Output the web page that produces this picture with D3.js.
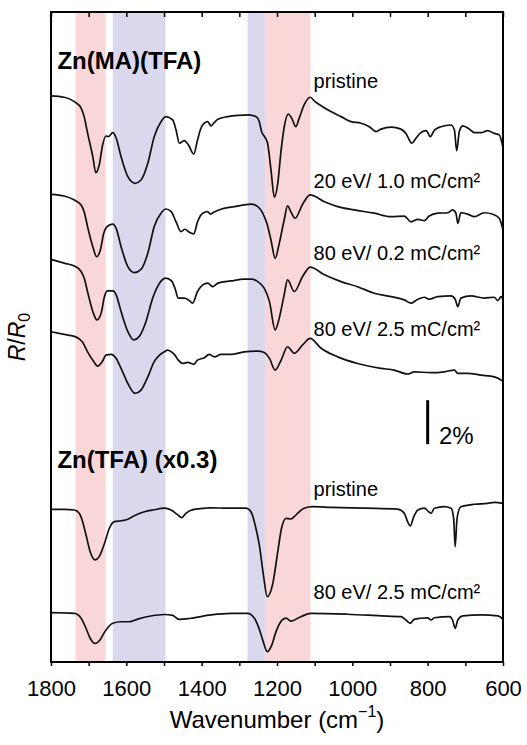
<!DOCTYPE html>
<html>
<head>
<meta charset="utf-8">
<script src="https://cdn.jsdelivr.net/npm/d3@7"></script>
<style>
  body { margin: 0; background: #fff; }
  svg { font-family: "Liberation Sans", Arial, sans-serif; }
</style>
</head>
<body>
<svg id="chart" width="527" height="745"></svg>
<script>
// spectra, [wavenumber (cm-1), change in R/R0 (%)] relative to each trace's offset
let maPristine = [[1800,0],[1765,-0.06],[1738,-0.26],[1720,-0.55],[1712,-0.94],[1703,-1.68],[1689,-2.76],[1681,-3.49],[1672,-3.14],[1663,-2.23],[1654,-1.82],[1648,-1.85],[1636,-1.67],[1627,-1.91],[1614,-2.76],[1596,-3.67],[1577,-3.97],[1561,-3.82],[1543,-3.06],[1526,-1.85],[1508,-1.17],[1495,-0.94],[1477,-1.09],[1468,-1.55],[1459,-2.15],[1446,-2.03],[1435,-2.23],[1421,-2.64],[1411,-2.0],[1402,-1.47],[1393,-1.24],[1384,-1.17],[1375,-1.36],[1368,-1.24],[1357,-1.06],[1331,-0.94],[1304,-0.88],[1274,-0.86],[1256,-0.94],[1247,-1.17],[1241,-1.62],[1232,-1.88],[1225,-2.15],[1216,-3.36],[1207,-4.6],[1198,-3.97],[1189,-2.45],[1179,-1.24],[1170,-0.82],[1161,-1.01],[1150,-1.4],[1141,-1.01],[1128,-0.41],[1112,-0.06],[1099,-0.26],[1079,-0.49],[1057,-0.71],[1030,-0.94],[1004,-1.17],[977,-1.24],[955,-1.4],[937,-1.62],[924,-1.51],[897,-1.42],[871,-1.51],[858,-1.7],[842,-2.15],[831,-1.92],[818,-1.67],[804,-1.58],[793,-1.85],[782,-1.55],[765,-1.4],[738,-1.32],[729,-1.55],[723,-2.49],[716,-1.62],[707,-1.36],[689,-1.51],[676,-1.67],[658,-1.67],[641,-1.58],[623,-1.7],[610,-1.77],[600,-2.36]];

let ma20eV = [[1800,0],[1765,-0.08],[1738,-0.26],[1720,-0.49],[1712,-0.79],[1703,-1.47],[1689,-2.38],[1679,-2.84],[1669,-2.53],[1660,-1.77],[1649,-1.44],[1636,-1.36],[1627,-1.55],[1614,-2.38],[1596,-3.29],[1579,-3.56],[1561,-3.41],[1543,-2.68],[1526,-1.47],[1508,-0.86],[1495,-0.67],[1481,-0.79],[1468,-1.25],[1455,-1.7],[1444,-1.59],[1435,-1.7],[1421,-1.8],[1411,-1.25],[1397,-0.86],[1384,-0.79],[1377,-0.9],[1368,-0.82],[1349,-0.68],[1313,-0.56],[1269,-0.45],[1251,-0.56],[1238,-0.86],[1227,-1.32],[1216,-2.08],[1205,-2.91],[1194,-2.23],[1181,-1.17],[1172,-0.53],[1163,-0.8],[1152,-1.09],[1132,-0.45],[1112,-0.03],[1074,-0.34],[1039,-0.56],[995,-0.71],[942,-0.86],[897,-1.02],[862,-0.99],[844,-1.25],[826,-1.14],[809,-1.2],[796,-0.99],[773,-0.86],[747,-0.84],[734,-0.71],[725,-0.86],[720,-1.32],[712,-0.84],[694,-0.9],[676,-1.02],[650,-0.84],[627,-0.91],[610,-1.09],[600,-1.62]];

let ma80eVLow = [[1800,0],[1765,-0.17],[1734,-0.33],[1720,-0.55],[1712,-0.85],[1701,-1.61],[1689,-2.37],[1678,-2.75],[1667,-2.45],[1658,-1.69],[1651,-1.43],[1636,-1.43],[1627,-1.61],[1614,-2.37],[1596,-3.28],[1580,-3.66],[1566,-3.51],[1548,-2.83],[1530,-1.76],[1512,-1.08],[1495,-0.85],[1480,-0.98],[1471,-1.31],[1462,-1.76],[1446,-1.76],[1435,-1.84],[1424,-1.99],[1411,-1.46],[1397,-1.16],[1384,-1.08],[1371,-1.24],[1357,-1.08],[1322,-0.98],[1287,-0.9],[1269,-0.9],[1251,-1.01],[1234,-1.31],[1220,-1.92],[1205,-3.2],[1194,-2.67],[1181,-1.61],[1172,-0.93],[1154,-1.46],[1132,-0.78],[1112,-0.35],[1074,-0.7],[1030,-1.01],[986,-1.24],[942,-1.54],[897,-1.69],[862,-1.84],[844,-1.99],[826,-1.81],[809,-1.72],[796,-1.81],[773,-1.69],[738,-1.66],[727,-1.81],[720,-2.15],[712,-1.76],[685,-1.66],[650,-1.76],[623,-1.72],[614,-1.87],[605,-1.69],[600,-1.84]];

let ma80eVHigh = [[1800,0],[1765,-0.12],[1734,-0.23],[1716,-0.48],[1703,-0.91],[1689,-1.29],[1676,-1.56],[1663,-1.33],[1654,-1.06],[1641,-1.03],[1627,-1.21],[1614,-1.66],[1596,-2.35],[1577,-2.8],[1561,-2.65],[1543,-2.05],[1526,-1.36],[1512,-1.06],[1499,-0.91],[1490,-0.83],[1481,-0.91],[1471,-1.06],[1462,-1.29],[1450,-1.44],[1437,-1.39],[1421,-1.48],[1411,-1.29],[1393,-1.18],[1380,-1.03],[1366,-1.14],[1349,-1.03],[1322,-1.03],[1287,-0.91],[1251,-0.88],[1234,-0.94],[1220,-1.21],[1205,-1.74],[1189,-1.29],[1172,-0.68],[1154,-0.98],[1132,-0.6],[1112,-0.3],[1083,-0.75],[1039,-1.14],[986,-1.44],[924,-1.66],[889,-1.74],[853,-1.92],[835,-1.82],[791,-1.86],[756,-1.82],[729,-1.74],[720,-1.89],[694,-1.89],[658,-1.97],[623,-2.05],[605,-2.2],[600,-2.27]];

// Zn(TFA), already multiplied by 0.3
let tfaPristine = [[1800,0],[1765,0],[1738,-0.03],[1725,-0.18],[1716,-0.56],[1707,-1.17],[1696,-1.93],[1683,-2.3],[1672,-2.15],[1658,-1.55],[1645,-0.86],[1632,-0.56],[1614,-0.52],[1596,-0.45],[1579,-0.29],[1552,-0.11],[1526,-0.02],[1499,0.05],[1481,-0.03],[1465,-0.23],[1453,-0.38],[1442,-0.18],[1420,0],[1375,0.07],[1331,0.05],[1282,0.05],[1269,-0.11],[1258,-0.71],[1247,-1.62],[1236,-2.99],[1226,-3.97],[1212,-3.44],[1198,-1.93],[1188,-0.86],[1176,-0.41],[1163,-0.44],[1150,-0.26],[1128,0.05],[1105,0.12],[1057,0.09],[968,0.05],[880,0.01],[862,-0.18],[855,-0.49],[846,-0.75],[837,-0.34],[826,-0.03],[809,0.05],[797,-0.11],[791,-0.18],[782,0.05],[756,0.12],[738,0.05],[731,-0.41],[727,-1.7],[722,-0.41],[712,0.12],[676,0.23],[641,0.27],[623,0.32],[600,0.27]];

let tfa80eV = [[1800,0],[1738,-0.03],[1720,-0.25],[1707,-0.71],[1696,-1.16],[1683,-1.4],[1670,-1.24],[1657,-0.86],[1636,-0.48],[1614,-0.41],[1592,-0.41],[1570,-0.29],[1535,-0.15],[1499,-0.08],[1477,-0.12],[1460,-0.3],[1429,-0.25],[1375,-0.1],[1322,-0.03],[1278,-0.03],[1260,-0.25],[1248,-0.7],[1237,-1.29],[1226,-1.77],[1214,-1.47],[1203,-0.88],[1186,-0.33],[1176,-0.25],[1163,-0.38],[1137,-0.18],[1110,-0.03],[1013,-0.07],[924,-0.14],[871,-0.18],[858,-0.33],[846,-0.48],[836,-0.3],[818,-0.25],[800,-0.23],[791,-0.33],[782,-0.23],[742,-0.18],[734,-0.33],[727,-0.71],[720,-0.33],[707,-0.14],[658,-0.1],[614,-0.14],[600,-0.29]];

let spectra = [maPristine, ma20eV, ma80eVLow, ma80eVHigh, tfaPristine, tfa80eV];
let offsets = [25.73, 21.26, 18.3, 15.01, 6.94, 2.24];
let traceLabels = ["pristine", "20 eV/ 1.0 mC/cm\u00b2", "80 eV/ 0.2 mC/cm\u00b2", "80 eV/ 2.5 mC/cm\u00b2", "pristine", "80 eV/ 2.5 mC/cm\u00b2"];
let labelLift = [0.36, 0.29, -0.03, -0.19, 0.61, 0.62];

let groupTitles = ["Zn(MA)(TFA)", "Zn(TFA) (x0.3)"];
let groupTitleY = [26.95, 8.82];

// shaded bands [from, to] in cm-1
let pinkBands = [[1735, 1655], [1231, 1111]];
let blueBands = [[1636, 1496], [1278, 1231]];

let xTicks = [1800, 1600, 1400, 1200, 1000, 800, 600];
let xMinor = [1700, 1500, 1300, 1100, 900, 700];

let margin = {top: 12, right: 24, bottom: 83, left: 51};
let width = 527 - margin.left - margin.right;
let height = 745 - margin.top - margin.bottom;

let svg = d3.select("#chart");
let g = svg.append("g").attr("transform", "translate(" + margin.left + "," + margin.top + ")");

let x = d3.scaleLinear().domain([1800, 600]).range([0, width]);
let y = d3.scaleLinear().domain([0, height / 22]).range([height, 0]);

// bands
g.selectAll("rect.pink")
  .data(pinkBands)
  .enter()
  .append("rect")
  .attr("x", d => x(d[0]))
  .attr("width", d => x(d[1]) - x(d[0]))
  .attr("y", 0)
  .attr("height", height)
  .attr("fill", "#f9d6d7");
g.selectAll("rect.blue")
  .data(blueBands)
  .enter()
  .append("rect")
  .attr("x", d => x(d[0]))
  .attr("width", d => x(d[1]) - x(d[0]))
  .attr("y", 0)
  .attr("height", height)
  .attr("fill", "#dad8ec");

// spectra
spectra.forEach((s, i) => {
  let line = d3.line()
    .x(d => x(d[0]))
    .y(d => y(d[1] + offsets[i]))
    .curve(d3.curveMonotoneX);
  g.append("path")
    .datum(s)
    .attr("d", line)
    .attr("fill", "none")
    .attr("stroke", "#111")
    .attr("stroke-width", 1.7)
    .attr("stroke-linejoin", "round");
});

// trace labels
g.selectAll("text.lbl")
  .data(traceLabels)
  .enter()
  .append("text")
  .attr("x", x(1103))
  .attr("y", (d, i) => y(offsets[i] + labelLift[i]))
  .attr("font-size", 20)
  .text(d => d);

g.selectAll("text.title")
  .data(groupTitles)
  .enter()
  .append("text")
  .attr("x", x(1783))
  .attr("y", (d, i) => y(groupTitleY[i]))
  .attr("font-size", 24)
  .attr("font-weight", "bold")
  .text(d => d);

// scale bar: 2 %
g.append("line")
  .attr("x1", x(800)).attr("x2", x(800))
  .attr("y1", y(9.9)).attr("y2", y(11.9))
  .attr("stroke", "#000")
  .attr("stroke-width", 3);
g.append("text")
  .attr("x", x(770))
  .attr("y", y(9.9))
  .attr("font-size", 24)
  .text("2%");

// axes
let xAxis = d3.axisBottom(x).tickValues(xTicks).tickSize(4).tickSizeOuter(0).tickPadding(14).tickFormat(d3.format("d"));
let ax = g.append("g").attr("transform", "translate(0," + height + ")").call(xAxis);
ax.select(".domain").remove();
ax.selectAll("text").attr("font-size", 22).attr("fill", "#000").style("font-family", "Liberation Sans, Arial, sans-serif");
ax.selectAll("line").attr("stroke-width", 1.5);
g.append("g").attr("transform", "translate(0," + height + ")")
  .call(d3.axisBottom(x).tickValues(xMinor).tickSize(4).tickFormat(""))
  .call(a => a.select(".domain").remove())
  .selectAll("line").attr("stroke-width", 1.5);

let topAxis = d3.axisTop(x).tickValues(xTicks.concat(xMinor)).tickSize(-5).tickFormat("");
g.append("g").call(topAxis)
  .call(a => a.select(".domain").remove())
  .selectAll("line").attr("stroke-width", 1.5);

g.append("rect")
  .attr("width", width)
  .attr("height", height)
  .attr("fill", "none")
  .attr("stroke", "#000")
  .attr("stroke-width", 2);

// axis titles
let xt = g.append("text")
  .attr("x", width / 2)
  .attr("y", height + 66)
  .attr("text-anchor", "middle")
  .attr("font-size", 24);
xt.append("tspan").text("Wavenumber (cm");
xt.append("tspan").attr("font-size", 16).attr("dy", -11).text("\u22121");
xt.append("tspan").attr("dy", 11).text(")");

let yt = g.append("text")
  .attr("transform", "translate(" + (-26) + "," + (height / 2) + ") rotate(-90)")
  .attr("text-anchor", "middle")
  .attr("font-size", 23);
yt.append("tspan").attr("font-style", "italic").text("R");
yt.append("tspan").text("/");
yt.append("tspan").attr("font-style", "italic").text("R");
yt.append("tspan").attr("font-size", 16).attr("dy", 5).text("0");
</script>
</body>
</html>
